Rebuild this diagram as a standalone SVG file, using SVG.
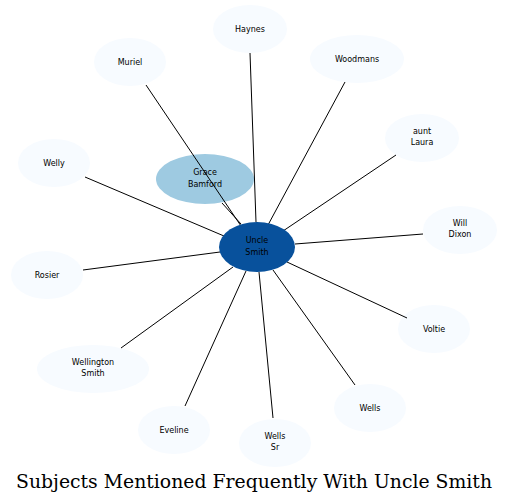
<svg xmlns="http://www.w3.org/2000/svg" width="509" height="504" viewBox="0 0 509 504">
<style>
.n ellipse{fill:#f7fbff;stroke:none}
.n text{font-family:"DejaVu Sans",sans-serif;font-size:8px;fill:#000;text-anchor:middle}
.e line{stroke:#000;stroke-width:1}
.t{font-family:"DejaVu Serif","Liberation Serif",serif;font-size:18.5px;text-anchor:middle;fill:#000}
</style>
<rect width="509" height="504" fill="#fff"/>
<g id="n-haynes" class="n"><ellipse cx="250" cy="29" rx="37" ry="24"/><text x="250" y="32">Haynes</text></g>
<g id="n-woodmans" class="n"><ellipse cx="357" cy="59" rx="47" ry="24"/><text x="357" y="62">Woodmans</text></g>
<g id="n-muriel" class="n"><ellipse cx="130" cy="62" rx="36" ry="24"/><text x="130" y="65">Muriel</text></g>
<g id="n-auntlaura" class="n"><ellipse cx="422" cy="138" rx="37" ry="24"/><text x="422" y="134">aunt</text><text x="422" y="145">Laura</text></g>
<g id="n-welly" class="n"><ellipse cx="54" cy="163" rx="36" ry="24"/><text x="54" y="166">Welly</text></g>
<g id="n-willdixon" class="n"><ellipse cx="460" cy="230" rx="37" ry="24"/><text x="460" y="226">Will</text><text x="460" y="237">Dixon</text></g>
<g id="n-rosier" class="n"><ellipse cx="47" cy="275" rx="36" ry="24"/><text x="47" y="278">Rosier</text></g>
<g id="n-voltie" class="n"><ellipse cx="434" cy="329" rx="36" ry="24"/><text x="434" y="332">Voltie</text></g>
<g id="n-wellingtonsmith" class="n"><ellipse cx="93" cy="369" rx="56" ry="24"/><text x="93" y="365">Wellington</text><text x="93" y="376">Smith</text></g>
<g id="n-wells" class="n"><ellipse cx="370" cy="408" rx="36" ry="24"/><text x="370" y="411">Wells</text></g>
<g id="n-eveline" class="n"><ellipse cx="174" cy="430" rx="36" ry="24"/><text x="174" y="433">Eveline</text></g>
<g id="n-wellssr" class="n"><ellipse cx="275" cy="443" rx="36" ry="24"/><text x="275" y="439">Wells</text><text x="275" y="450">Sr</text></g>
<g id="n-grace" class="n"><ellipse cx="205" cy="179" rx="49" ry="25" style="fill:#9ecae1"/><text x="205" y="175">Grace</text><text x="205" y="187">Bamford</text></g>
<g id="edges" class="e">
<line x1="250" y1="53" x2="256" y2="222"/>
<line x1="345" y1="82" x2="268" y2="225"/>
<line x1="146" y1="85" x2="241" y2="226"/>
<line x1="222" y1="203" x2="241" y2="224"/>
<line x1="396" y1="155" x2="283" y2="231"/>
<line x1="85" y1="177" x2="224" y2="236"/>
<line x1="423" y1="234" x2="295" y2="244"/>
<line x1="83" y1="270" x2="220" y2="252"/>
<line x1="407" y1="318" x2="287" y2="262"/>
<line x1="121" y1="348" x2="233" y2="267"/>
<line x1="355" y1="385" x2="273" y2="270"/>
<line x1="185" y1="406" x2="246" y2="271"/>
<line x1="273" y1="418" x2="259" y2="272"/>
</g>
<g id="n-unclesmith" class="n"><ellipse cx="257" cy="247" rx="38" ry="25" style="fill:#08519c"/><text x="257" y="243">Uncle</text><text x="257" y="255">Smith</text></g>
<text class="t" x="254" y="488" textLength="476" lengthAdjust="spacingAndGlyphs">Subjects Mentioned Frequently With Uncle Smith</text>
</svg>
